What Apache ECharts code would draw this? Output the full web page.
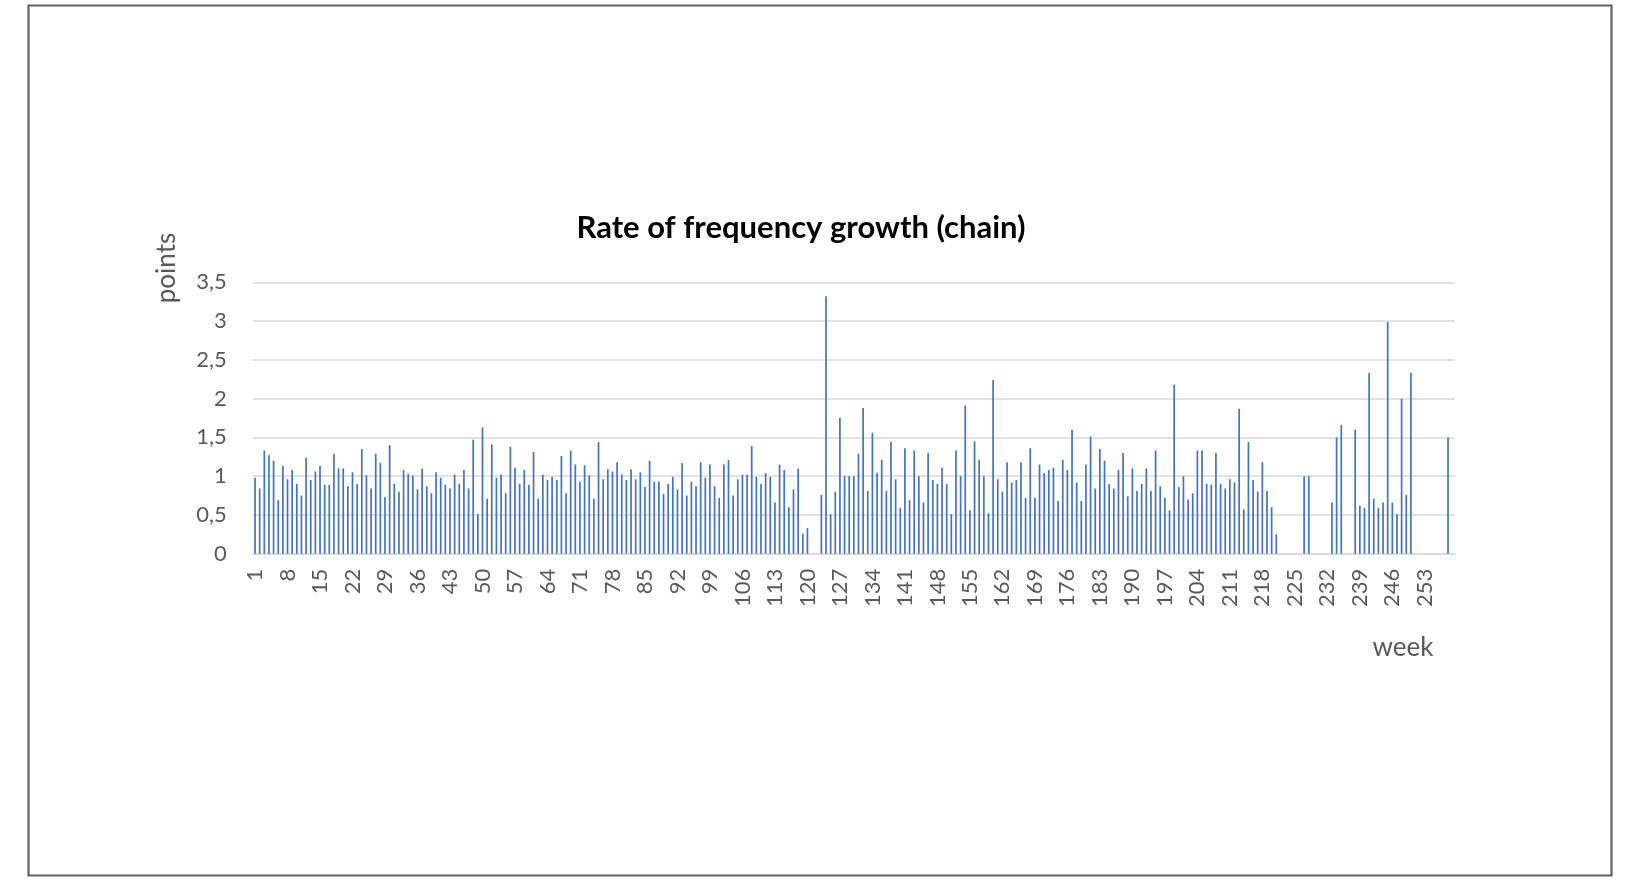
<!DOCTYPE html>
<html>
<head>
<meta charset="utf-8">
<script src="https://cdn.jsdelivr.net/npm/echarts@6/dist/echarts.min.js"></script>
<style>
  html, body { margin: 0; padding: 0; background: #ffffff; }
  #chart { width: 1626px; height: 881px; }
</style>
</head>
<body>
<div id="chart"></div>
<script>
// ---- data ----
const chartTitle = 'Rate of frequency growth (chain)';
const yAxisTitle = 'points';
const xAxisTitle = 'week';
const weekCount = 259;
const yTicks = [0, 0.5, 1, 1.5, 2, 2.5, 3, 3.5];

// chain growth rate per week (null = no value)
const rateWeeks1to60 = [
  0.98, 0.84, 1.33, 1.27, 1.20, 0.69, 1.13, 0.96, 1.08, 0.90,
  0.75, 1.24, 0.95, 1.06, 1.13, 0.89, 0.89, 1.29, 1.10, 1.10,
  0.87, 1.05, 0.90, 1.35, 1.01, 0.84, 1.29, 1.17, 0.73, 1.40,
  0.90, 0.80, 1.08, 1.03, 1.01, 0.83, 1.10, 0.87, 0.78, 1.05,
  0.98, 0.89, 0.84, 1.02, 0.90, 1.08, 0.84, 1.47, 0.51, 1.63,
  0.71, 1.41, 0.98, 1.02, 0.78, 1.38, 1.11, 0.90, 1.08, 0.89
];
const rateWeeks61to120 = [
  1.31, 0.71, 1.02, 0.95, 0.99, 0.95, 1.26, 0.78, 1.33, 1.15,
  0.93, 1.14, 1.01, 0.71, 1.44, 0.96, 1.09, 1.06, 1.18, 1.02,
  0.95, 1.09, 0.96, 1.05, 0.86, 1.20, 0.93, 0.93, 0.77, 0.90,
  0.99, 0.83, 1.17, 0.75, 0.93, 0.87, 1.18, 0.98, 1.15, 0.87,
  0.72, 1.15, 1.21, 0.75, 0.96, 1.02, 1.02, 1.39, 0.99, 0.90,
  1.04, 0.99, 0.66, 1.15, 1.08, 0.60, 0.83, 1.10, 0.26, 0.33
];
const rateWeeks121to180 = [
  null, null, 0.76, 3.32, 0.51, 0.80, 1.75, 1.00, 1.00, 1.00,
  1.29, 1.88, 0.81, 1.56, 1.04, 1.21, 0.81, 1.44, 0.96, 0.59,
  1.36, 0.69, 1.33, 1.00, 0.66, 1.30, 0.95, 0.90, 1.11, 0.90,
  0.51, 1.33, 1.00, 1.91, 0.56, 1.45, 1.21, 1.00, 0.52, 2.24,
  0.96, 0.80, 1.18, 0.92, 0.95, 1.18, 0.72, 1.36, 0.72, 1.15,
  1.04, 1.08, 1.11, 0.68, 1.21, 1.08, 1.60, 0.92, 0.68, 1.15
];
const rateWeeks181to259 = [
  1.51, 0.84, 1.35, 1.20, 0.90, 0.84, 1.08, 1.30, 0.74, 1.10,
  0.81, 0.90, 1.10, 0.81, 1.33, 0.87, 0.72, 0.56, 2.18, 0.86,
  1.00, 0.70, 0.78, 1.33, 1.33, 0.90, 0.89, 1.30, 0.90, 0.84,
  0.96, 0.92, 1.87, 0.57, 1.44, 0.95, 0.80, 1.18, 0.81, 0.60,
  0.25, null, null, null, null, null, 1.00, 1.00, null, null,
  null, null, 0.66, 1.50, 1.66, null, null, 1.60, 0.62, 0.59,
  2.33, 0.71, 0.59, 0.66, 2.99, 0.66, 0.51, 2.00, 0.76, 2.33,
  null, null, null, null, null, null, null, 1.50, null
];

const weeks = [];
for (let i = 1; i <= weekCount; i++) weeks.push(String(i));
const rates = [].concat(rateWeeks1to60, rateWeeks61to120, rateWeeks121to180, rateWeeks181to259);

// ---- chart ----
const FONT = 'Lato, "Open Sans", "Noto Sans", sans-serif';
const chart = echarts.init(document.getElementById('chart'), null, { renderer: 'canvas' });

chart.setOption({
  backgroundColor: '#ffffff',
  animation: false,
  title: {
    text: chartTitle,
    left: 801,
    top: 212,
    textAlign: 'center',
    padding: 0,
    textStyle: { fontFamily: FONT, fontSize: 31, fontWeight: 'bold', color: '#000000' }
  },
  grid: { left: 252.7, right: 171, top: 282.3, bottom: 327.3, containLabel: false },
  xAxis: {
    type: 'category',
    data: weeks,
    boundaryGap: true,
    axisTick: { show: false },
    axisLine: { lineStyle: { color: '#d9d9d9', width: 1.5 } },
    axisLabel: {
      interval: 6,
      rotate: 90,
      margin: 15,
      color: '#595959',
      fontFamily: FONT,
      fontSize: 22
    },
    splitLine: { show: false }
  },
  yAxis: {
    type: 'value',
    min: yTicks[0],
    max: yTicks[yTicks.length - 1],
    interval: 0.5,
    axisLine: { show: false },
    axisTick: { show: false },
    axisLabel: {
      margin: 26,
      color: '#595959',
      fontFamily: FONT,
      fontSize: 22,
      formatter: v => String(v).replace('.', ',')
    },
    splitLine: { lineStyle: { color: '#d9d9d9', width: 1.5 } }
  },
  series: [{
    type: 'bar',
    name: chartTitle,
    data: rates,
    barWidth: 1.7,
    itemStyle: { color: '#4472C4' }
  }],
  graphic: [
    {
      type: 'rect',
      silent: true,
      shape: { x: 28.5, y: 5.5, width: 1583, height: 870 },
      style: { fill: 'none', stroke: '#626262', lineWidth: 2.2 }
    },
    {
      type: 'text',
      x: 167, y: 268,
      rotation: Math.PI / 2,
      style: {
        text: yAxisTitle, fontFamily: FONT, fontSize: 26, fill: '#595959',
        align: 'center', verticalAlign: 'middle'
      }
    },
    {
      type: 'text',
      x: 1403, y: 648,
      style: {
        text: xAxisTitle, fontFamily: FONT, fontSize: 26, fill: '#595959',
        align: 'center', verticalAlign: 'middle'
      }
    }
  ]
});
</script>
</body>
</html>
